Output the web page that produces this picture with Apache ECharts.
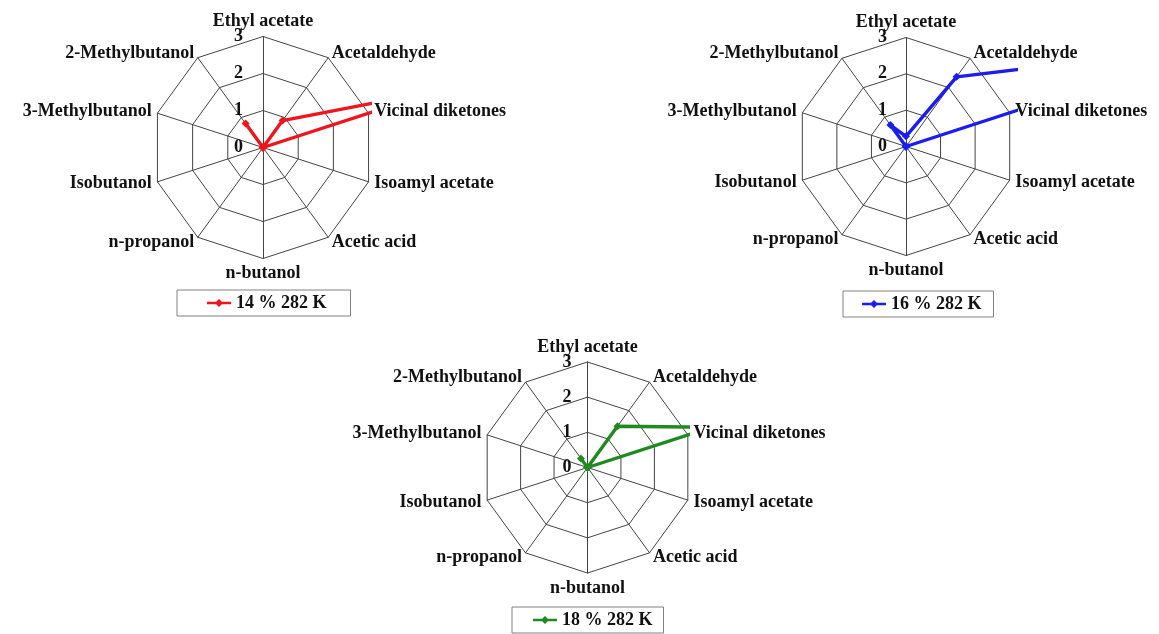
<!DOCTYPE html>
<html><head><meta charset="utf-8">
<script src="https://cdn.jsdelivr.net/npm/echarts@6/dist/echarts.min.js"></script>
<style>
html,body{margin:0;padding:0;background:#fff;}
#stage{position:relative;width:1159px;height:634px;overflow:hidden;background:#fff;}
#base{position:absolute;left:0;top:0;width:1159px;height:634px;}
.clip{position:absolute;left:0;top:0;height:634px;overflow:hidden;}
.ov{position:absolute;left:0;top:0;width:1159px;height:634px;}
</style></head><body>
<div id="stage">
  <div id="base"></div>
  <div class="clip" id="clip0"><div class="ov" id="ov0"></div></div>
  <div class="clip" id="clip1"><div class="ov" id="ov1"></div></div>
  <div class="clip" id="clip2"><div class="ov" id="ov2"></div></div>
</div>
<script>
// ---- data (clockwise from top, as in the reference) ----
const categories = ['Ethyl acetate','Acetaldehyde','Vicinal diketones','Isoamyl acetate','Acetic acid','n-butanol','n-propanol','Isobutanol','3-Methylbutanol','2-Methylbutanol'];
const tickValues = [0, 1, 2, 3];
const seriesNames = ['14 % 282 K', '16 % 282 K', '18 % 282 K'];
const values14 = [0, 0.9, 5.0, 0, 0, 0, 0, 0, 0, 0.8];
const values16 = [0.28, 2.37, 9.0, 0, 0, 0, 0, 0, 0, 0.73];
const values18 = [0, 1.45, 3.7, 0, 0, 0, 0, 0, 0, 0.32];
const seriesValues = [values14, values16, values18];
const seriesColors = ['#f2141c', '#1c1cf0', '#1f8a1f'];

// ---- layout ----
const FONT = '"Liberation Serif", "Times New Roman", serif';
const FS = 18;
const layout = [
  {cx: 263, cy: 147.5, r: 111, clipX: 372, tickMargin: 20, legend: {left: 177, top: 290, pad: [4, 24, 4, 30]}},
  {cx: 906, cy: 146.5, r: 109, clipX: 1018, tickMargin: 19, legend: {left: 843, top: 291, pad: [4, 12, 4, 19]}},
  {cx: 587.5, cy: 467.5, r: 105.5, clipX: 690, tickMargin: 16, legend: {left: 512, top: 607, pad: [4, 11, 4, 21]}}
];
const legendIcon = 'path://M0,3.4 L11.5,3.4 L15,0 L18.5,3.4 L30,3.4 L30,6.6 L18.5,6.6 L15,10 L11.5,6.6 L0,6.6 Z';

// ECharts places radar indicators counter-clockwise; reorder to get the clockwise layout
function ccwOrder(arr) { return [arr[0]].concat(arr.slice(1).reverse()); }

const tMin = tickValues[0], tMax = tickValues[tickValues.length - 1];
const tInt = tickValues[1] - tickValues[0];

function radarComp(L, visible) {
  return {
    center: [L.cx, L.cy], radius: L.r, startAngle: 90, splitNumber: tickValues.length - 1, shape: 'polygon',
    indicator: ccwOrder(categories).map(n => ({name: n, min: tMin, max: tMax})),
    axisName: {show: visible, color: '#111', fontFamily: FONT, fontWeight: 'bold', fontSize: FS},
    nameGap: 6,
    axisLine: {show: visible, lineStyle: {color: '#444', width: 1}},
    splitLine: {show: visible, lineStyle: {color: '#444', width: 1}},
    splitArea: {show: false},
    axisTick: {show: false},
    axisLabel: {show: false}
  };
}

// ---- base: radar grids, axis names, tick labels ----
const base = echarts.init(document.getElementById('base'), null, {renderer: 'canvas'});
base.setOption({
  animation: false,
  backgroundColor: '#fff',
  radar: layout.map(L => radarComp(L, true)),
  grid: layout.map(L => ({left: L.cx, top: L.cy - L.r, width: 20, height: L.r})),
  xAxis: layout.map((L, i) => ({gridIndex: i, type: 'value', show: false, min: 0, max: 1})),
  yAxis: layout.map((L, i) => ({
    gridIndex: i, type: 'value', min: tMin, max: tMax, interval: tInt,
    axisLine: {show: false}, axisTick: {show: false}, splitLine: {show: false},
    axisLabel: {margin: L.tickMargin, fontFamily: FONT, fontWeight: 'bold', fontSize: FS, color: '#111'}
  })),
  series: []
});

// ---- overlays: the data lines (clipped at the plot area's right edge) + legend ----
layout.forEach((L, i) => {
  document.getElementById('clip' + i).style.width = L.clipX + 'px';
  const ch = echarts.init(document.getElementById('ov' + i), null, {renderer: 'canvas'});
  ch.setOption({
    animation: false,
    radar: [radarComp(L, false)],
    legend: {
      data: [seriesNames[i]], left: L.legend.left, top: L.legend.top, padding: L.legend.pad,
      borderColor: '#808080', borderWidth: 1, backgroundColor: '#fff',
      itemWidth: 24, itemHeight: 8, icon: legendIcon, selectedMode: false,
      textStyle: {fontFamily: FONT, fontWeight: 'bold', fontSize: FS, color: '#111'}
    },
    series: [{
      type: 'radar', radarIndex: 0, name: seriesNames[i],
      symbol: 'diamond', symbolSize: 8,
      lineStyle: {width: 3.4, color: seriesColors[i]},
      itemStyle: {color: seriesColors[i]},
      data: [{name: seriesNames[i], value: ccwOrder(seriesValues[i])}]
    }]
  });
});
</script>
</body></html>
